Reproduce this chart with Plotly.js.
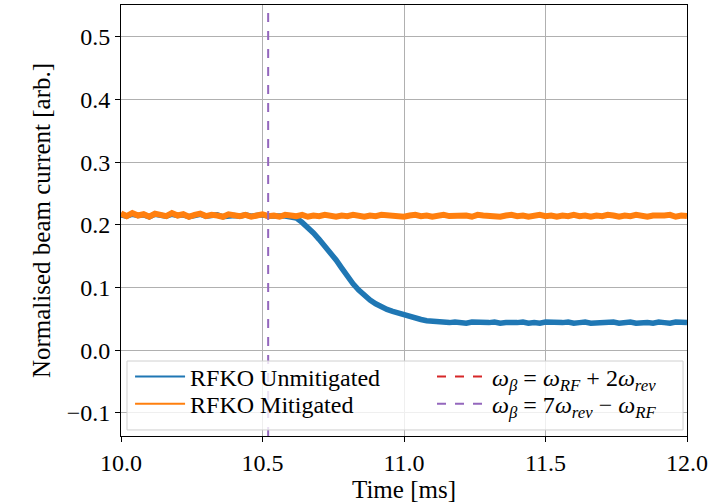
<!DOCTYPE html>
<html>
<head>
<meta charset="utf-8">
<script src="https://cdn.plot.ly/plotly-3.0.1.min.js"></script>
<style>html,body{margin:0;padding:0;background:#fff;}#chart{width:708px;height:503px;}</style>
</head>
<body>
<div id="chart"></div>
<script>
// Time axis [ms]
const time = [10.00,10.02,10.04,10.06,10.08,10.10,10.12,10.14,10.16,10.18,
10.20,10.22,10.24,10.26,10.28,10.30,10.32,10.34,10.36,10.38,
10.40,10.42,10.44,10.46,10.48,10.50,10.52,10.54,10.56,10.58,
10.60,10.62,10.64,10.66,10.68,10.70,10.72,10.74,10.76,10.78,
10.80,10.82,10.84,10.86,10.88,10.90,10.92,10.94,10.96,10.98,
11.00,11.02,11.04,11.06,11.08,11.10,11.12,11.14,11.16,11.18,
11.20,11.22,11.24,11.26,11.28,11.30,11.32,11.34,11.36,11.38,
11.40,11.42,11.44,11.46,11.48,11.50,11.52,11.54,11.56,11.58,
11.60,11.62,11.64,11.66,11.68,11.70,11.72,11.74,11.76,11.78,
11.80,11.82,11.84,11.86,11.88,11.90,11.92,11.94,11.96,11.98,
12.00];

// RFKO Unmitigated
const unmitigated = [0.216,0.214,0.217,0.215,0.216,0.213,0.217,0.215,0.214,0.217,
0.215,0.216,0.213,0.215,0.217,0.214,0.215,0.216,0.213,0.215,
0.215,0.214,0.216,0.214,0.215,0.216,0.214,0.215,0.214,0.214,
0.213,0.211,0.204,0.196,0.187,0.177,0.167,0.156,0.144,0.131,
0.118,0.106,0.096,0.087,0.080,0.074,0.069,0.065,0.062,0.059,
0.056,0.053,0.051,0.049,0.047,0.046,0.045,0.045,0.044,0.045,
0.044,0.043,0.045,0.044,0.043,0.044,0.045,0.043,0.044,0.043,
0.044,0.045,0.043,0.044,0.043,0.045,0.044,0.043,0.044,0.045,
0.043,0.044,0.045,0.043,0.044,0.043,0.044,0.045,0.043,0.044,
0.045,0.043,0.044,0.044,0.043,0.045,0.044,0.043,0.045,0.044,
0.044];

// RFKO Mitigated
const mitigated = [0.218,0.214,0.219,0.215,0.217,0.213,0.218,0.216,0.214,0.219,
0.215,0.217,0.213,0.216,0.218,0.214,0.216,0.215,0.213,0.217,
0.215,0.214,0.216,0.213,0.215,0.217,0.214,0.215,0.213,0.216,
0.215,0.214,0.216,0.213,0.215,0.214,0.216,0.215,0.213,0.215,
0.214,0.216,0.215,0.213,0.215,0.214,0.216,0.215,0.214,0.215,
0.213,0.215,0.216,0.214,0.215,0.213,0.215,0.216,0.214,0.215,
0.214,0.215,0.213,0.216,0.215,0.214,0.215,0.213,0.215,0.216,
0.214,0.215,0.213,0.215,0.216,0.214,0.215,0.213,0.215,0.214,
0.216,0.214,0.215,0.213,0.215,0.214,0.216,0.215,0.213,0.215,
0.214,0.216,0.215,0.213,0.215,0.214,0.215,0.216,0.213,0.215,
0.214];

// Resonance markers (time in ms)
const redLineX = [9.80];      // omega_beta = omega_RF + 2 omega_rev (outside shown window)
const purpleLineX = [10.52];  // omega_beta = 7 omega_rev - omega_RF

const xTicks = [10.0, 10.5, 11.0, 11.5, 12.0];
const yTicks = [-0.1, 0.0, 0.1, 0.2, 0.3, 0.4, 0.5];

const seriesNames = ['RFKO Unmitigated', 'RFKO Mitigated'];
const lineNames = [
  '<i>ω</i><sub><i>β</i></sub> = <i>ω</i><sub><i>RF</i></sub> + 2<i>ω</i><sub><i>rev</i></sub>',
  '<i>ω</i><sub><i>β</i></sub> = 7<i>ω</i><sub><i>rev</i></sub> − <i>ω</i><sub><i>RF</i></sub>'
];

const FONT = '"Liberation Serif", "Times New Roman", Times, "DejaVu Serif", serif';
const TICKFS = 24, TITLEFS = 25, LFS = 24;
const BLUE = '#1f77b4', ORANGE = '#ff7f0e', RED = '#d62728', PURPLE = '#9467bd';

const traces = [
  {x: time, y: unmitigated, type: 'scatter', mode: 'lines', showlegend: false,
   line: {color: BLUE, width: 5.5}},
  {x: time, y: mitigated, type: 'scatter', mode: 'lines', showlegend: false,
   line: {color: ORANGE, width: 6}},
  {x: [null], y: [null], type: 'scatter', mode: 'lines', name: seriesNames[0],
   line: {color: BLUE, width: 2}, legend: 'legend'},
  {x: [null], y: [null], type: 'scatter', mode: 'lines', name: seriesNames[1],
   line: {color: ORANGE, width: 2}, legend: 'legend2'}
];

const shapes = [
  {type: 'line', xref: 'x', yref: 'paper', x0: redLineX[0], x1: redLineX[0], y0: 0, y1: 1,
   line: {color: RED, width: 2, dash: 'dash'}, showlegend: true, legend: 'legend3',
   name: lineNames[0]},
  {type: 'line', xref: 'x', yref: 'paper', x0: purpleLineX[0], x1: purpleLineX[0], y0: 0, y1: 1,
   line: {color: PURPLE, width: 2, dash: 'dash'}, showlegend: true, legend: 'legend4',
   name: lineNames[1]},
  {type: 'rect', xref: 'paper', yref: 'paper', x0: 0.0106, x1: 0.993, y0: 0.014, y1: 0.174,
   line: {color: '#d0d0d0', width: 1}, fillcolor: 'rgba(255,255,255,0.8)', layer: 'above'}
];

const axisCommon = {
  showline: true, linecolor: '#000', linewidth: 1, mirror: true,
  ticks: 'outside', ticklen: 5, tickwidth: 1, tickcolor: '#000',
  showgrid: true, gridcolor: '#b0b0b0', gridwidth: 1, zeroline: false,
  tickfont: {family: FONT, size: TICKFS, color: '#000'}
};

const legendCommon = {
  orientation: 'v', yanchor: 'middle', xanchor: 'left', itemwidth: 50,
  bgcolor: 'rgba(0,0,0,0)', borderwidth: 0,
  font: {family: FONT, size: LFS, color: '#000'}
};

const layout = {
  width: 708, height: 503,
  margin: {l: 121, r: 21, t: 5, b: 67},
  paper_bgcolor: '#fff', plot_bgcolor: '#fff',
  font: {family: FONT, size: TICKFS, color: '#000'},
  showlegend: true,
  xaxis: Object.assign({}, axisCommon, {
    range: [10.0, 12.0], tickvals: xTicks, tickformat: '.1f',
    title: {text: 'Time [ms]', font: {family: FONT, size: TITLEFS, color: '#000'}, standoff: 1}
  }),
  yaxis: Object.assign({}, axisCommon, {
    range: [-0.137, 0.551], tickvals: yTicks, tickformat: '.1f',
    title: {text: 'Normalised beam current [arb.]', font: {family: FONT, size: TITLEFS, color: '#000'}, standoff: 8}
  }),
  legend:  Object.assign({}, legendCommon, {x: 0.016, y: 0.137}),
  legend2: Object.assign({}, legendCommon, {x: 0.016, y: 0.074}),
  legend3: Object.assign({}, legendCommon, {x: 0.5495, y: 0.137}),
  legend4: Object.assign({}, legendCommon, {x: 0.5495, y: 0.074}),
  shapes: shapes
};

Plotly.newPlot('chart', traces, layout, {displayModeBar: false, staticPlot: true});
</script>
</body>
</html>
